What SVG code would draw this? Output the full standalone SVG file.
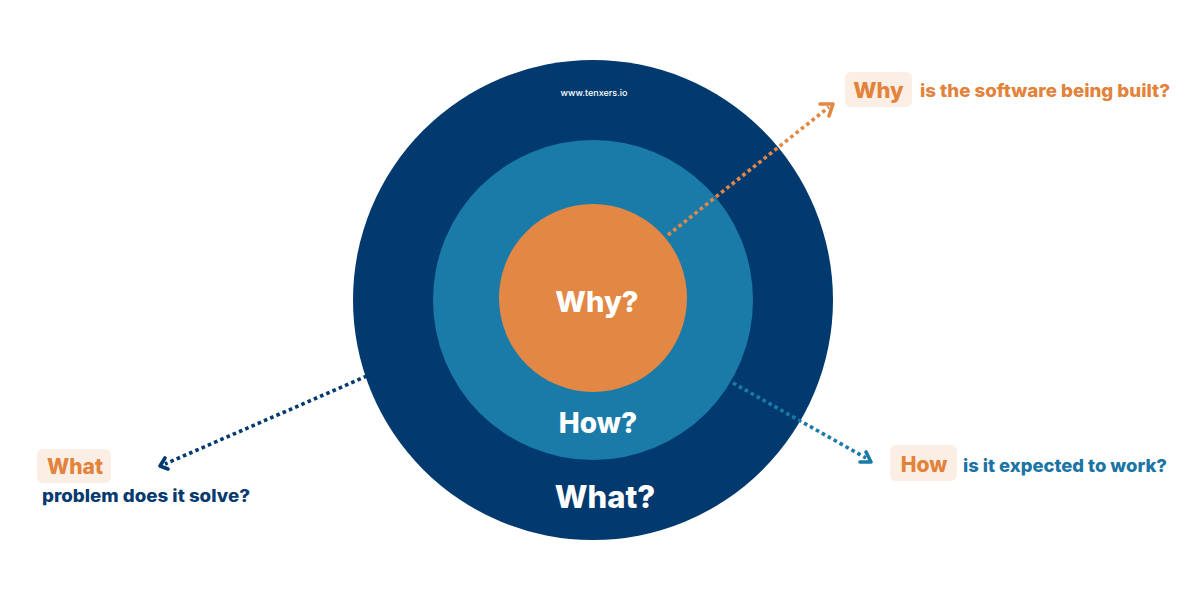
<svg xmlns="http://www.w3.org/2000/svg" width="1200" height="600" viewBox="0 0 1200 600">
<style>
.t{font-family:Inter,"Open Sans","Liberation Sans",sans-serif;font-weight:800}
.c{fill:#fff;text-anchor:middle}
.url{font-family:Inter,"Open Sans","Liberation Sans",sans-serif;font-weight:500;fill:#fff;text-anchor:middle}
.tag{fill:#FBEEE4}
.lo{fill:#E3823A}
.conn{fill:none;stroke-width:3.6;stroke-dasharray:3.6 3.2}
.head{fill:none;stroke-width:3.6;stroke-linecap:round;stroke-linejoin:round}
</style>
<rect width="1200" height="600" fill="#fff"/>
<g id="what-circle">
<circle cx="593" cy="300" r="240" fill="#023A6F"/>
<text class="url" x="594" y="96" font-size="9">www.tenxers.io</text>
<text class="t c" x="605" y="508" font-size="31">What?</text>
</g>
<g id="how-circle">
<circle cx="593" cy="300" r="160" fill="#1A7BA8"/>
<text class="t c" x="598" y="433" font-size="28">How?</text>
</g>
<g id="why-circle">
<circle cx="593" cy="298" r="94" fill="#E38844"/>
<text class="t c" x="597" y="312" font-size="29">Why?</text>
</g>
<g id="connectors">
<line class="conn" x1="668" y1="235" x2="829" y2="107" stroke="#E38844"/>
<polyline class="head" points="820,104 833,104 829,116" stroke="#E38844"/>
<line class="conn" x1="367" y1="376" x2="165" y2="464" stroke="#023A6F"/>
<polyline class="head" points="165,458 160,466 168,469" stroke="#023A6F"/>
<line class="conn" x1="733" y1="383" x2="866" y2="458" stroke="#1A7BA8"/>
<polyline class="head" points="866,452 871,462 860,462" stroke="#1A7BA8"/>
</g>
<g id="why-label">
<rect class="tag" x="845" y="72" width="67" height="35" rx="6"/>
<text class="t lo" x="878.5" y="98" font-size="22" text-anchor="middle">Why</text>
<text class="t lo" x="920" y="97" font-size="18" textLength="250" lengthAdjust="spacingAndGlyphs">is the software being built?</text>
</g>
<g id="what-label">
<rect class="tag" x="37" y="449" width="74" height="34" rx="6"/>
<text class="t lo" x="75" y="474" font-size="21" text-anchor="middle">What</text>
<text class="t" x="42" y="502" font-size="17" fill="#073A70" textLength="208" lengthAdjust="spacingAndGlyphs">problem does it solve?</text>
</g>
<g id="how-label">
<rect class="tag" x="890" y="445" width="67" height="36" rx="6"/>
<text class="t lo" x="924" y="472" font-size="21" text-anchor="middle">How</text>
<text class="t" x="963" y="472" font-size="18" fill="#1B74A6" textLength="204" lengthAdjust="spacingAndGlyphs">is it expected to work?</text>
</g>
</svg>
